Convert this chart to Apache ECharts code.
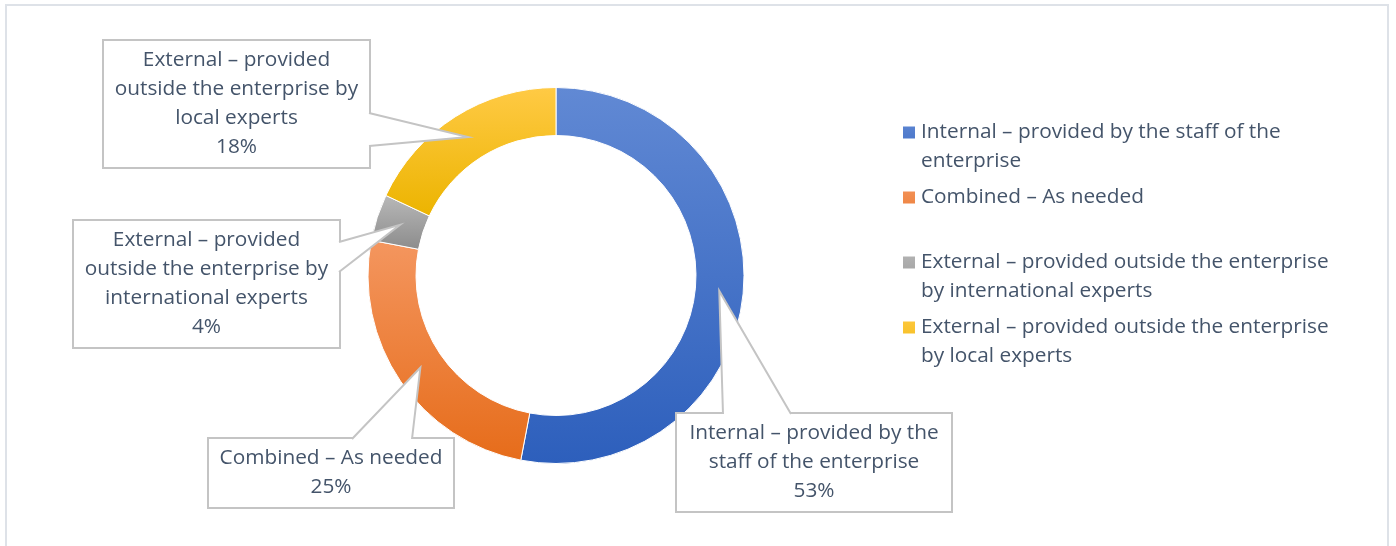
<!DOCTYPE html>
<html>
<head>
<meta charset="utf-8">
<script src="https://cdn.jsdelivr.net/npm/echarts@6/dist/echarts.min.js"></script>
<style>
  html, body { margin: 0; padding: 0; background: #ffffff; }
  #frame { position: absolute; left: 5px; top: 4px; width: 1384px; height: 600px; border: 2px solid #DEE2E8; box-sizing: border-box; }
  #chart { position: absolute; left: 0; top: 0; width: 1396px; height: 546px; }
</style>
</head>
<body>
<div id="frame"></div>
<div id="chart"></div>
<script>
// Categories and their shares (%)
const categories = [
  'Internal – provided by the staff of the enterprise',
  'Combined – As needed',
  'External – provided outside the enterprise by international experts',
  'External – provided outside the enterprise by local experts'
];
const shares = [53, 25, 4, 18];

// Wrapped text for the legend and for the callout boxes
const legendLines = [
  'Internal – provided by the staff of the\nenterprise',
  'Combined – As needed\n\u00a0',
  'External – provided outside the enterprise\nby international experts',
  'External – provided outside the enterprise\nby local experts'
];
const calloutLines = [
  'Internal – provided by the\nstaff of the enterprise',
  'Combined – As needed',
  'External – provided\noutside the enterprise by\ninternational experts',
  'External – provided\noutside the enterprise by\nlocal experts'
];

// Slice fills: top and bottom stops of a vertical gradient
const sliceColors = [
  ['#6189D4', '#2D5FBC'],
  ['#F4965F', '#E66C1A'],
  ['#B8B8B8', '#8C8C8C'],
  ['#FFCA45', '#ECB400']
];

// Callout box placement and where each pointer leaves its box
const callouts = [
  { x: 677, y: 414, w: 274, h: 97, edge: 'top', from: 723, to: 791 },
  { x: 209, y: 439, w: 244, h: 68, edge: 'top', from: 352, to: 412 },
  { x: 74, y: 221, w: 265, h: 126, edge: 'right', from: 242, to: 272 },
  { x: 104, y: 41, w: 265, h: 126, edge: 'right', from: 113, to: 146 }
];

const TEXT = '#44546A';
const FONT = '"Open Sans"';
const FONT_SIZE = 20.8;
const BORDER = '#C4C4C4';

const nameToLegend = {};
categories.forEach((c, i) => { nameToLegend[c] = legendLines[i]; });

const data = categories.map((name, i) => ({
  name: name,
  value: shares[i],
  itemStyle: {
    color: {
      type: 'linear', x: 0, y: 0, x2: 0, y2: 1,
      colorStops: [
        { offset: 0, color: sliceColors[i][0] },
        { offset: 1, color: sliceColors[i][1] }
      ]
    }
  },
  label: { width: callouts[i].w }
}));

const chart = echarts.init(document.getElementById('chart'), null, { renderer: 'canvas' });

chart.setOption({
  animation: false,
  legend: {
    orient: 'vertical',
    left: 901,
    top: 117,
    padding: 0,
    itemGap: 5,
    itemWidth: 14,
    itemHeight: 58,
    selectedMode: false,
    icon: 'path://M0,0M0,7.5h14v14h-14zM0,58',
    data: categories,
    formatter: name => nameToLegend[name],
    textStyle: { color: TEXT, fontFamily: FONT, fontSize: FONT_SIZE, lineHeight: 29 }
  },
  series: [{
    type: 'pie',
    center: [556, 275.5],
    radius: [140, 188],
    startAngle: 90,
    clockwise: true,
    avoidLabelOverlap: false,
    silent: true,
    itemStyle: { borderColor: '#ffffff', borderWidth: 1 },
    label: {
      show: true,
      position: 'outside',
      formatter: p => calloutLines[p.dataIndex] + '\n' + p.value + '%',
      color: TEXT,
      fontFamily: FONT,
      fontSize: FONT_SIZE,
      lineHeight: 29,
      align: 'center',
      backgroundColor: '#ffffff',
      borderColor: BORDER,
      borderWidth: 2,
      padding: [8, 0, 2, 0]
    },
    labelLine: { show: false },
    labelLayout: p => {
      const b = callouts[p.dataIndex];
      return { x: b.x + b.w / 2, y: b.y + b.h / 2, align: 'center', verticalAlign: 'middle' };
    },
    data: data
  }]
});

// Callout pointers: from the box edge to the middle of the ring at each slice's mid-angle
const seriesData = chart.getModel().getSeriesByIndex(0).getData();
const pointers = [];
callouts.forEach((b, i) => {
  const lay = seriesData.getItemLayout(i);
  const mid = (lay.startAngle + lay.endAngle) / 2;
  const rm = (lay.r + lay.r0) / 2;
  const tip = [lay.cx + rm * Math.cos(mid), lay.cy + rm * Math.sin(mid)];
  let a, c, a2, c2;
  if (b.edge === 'right') {
    const x = b.x + b.w;
    a = [x, b.from]; c = [x, b.to];
    a2 = [x - 2, b.from]; c2 = [x - 2, b.to];
  } else {
    const y = b.y;
    a = [b.from, y]; c = [b.to, y];
    a2 = [b.from, y + 2]; c2 = [b.to, y + 2];
  }
  pointers.push({
    type: 'polygon', z: 100, silent: true,
    shape: { points: [a2, a, tip, c, c2] },
    style: { fill: '#ffffff', stroke: null }
  });
  pointers.push({
    type: 'polyline', z: 101, silent: true,
    shape: { points: [a, tip, c] },
    style: { stroke: BORDER, lineWidth: 2, fill: null, lineJoin: 'miter' }
  });
});
chart.setOption({ graphic: pointers });
</script>
</body>
</html>
